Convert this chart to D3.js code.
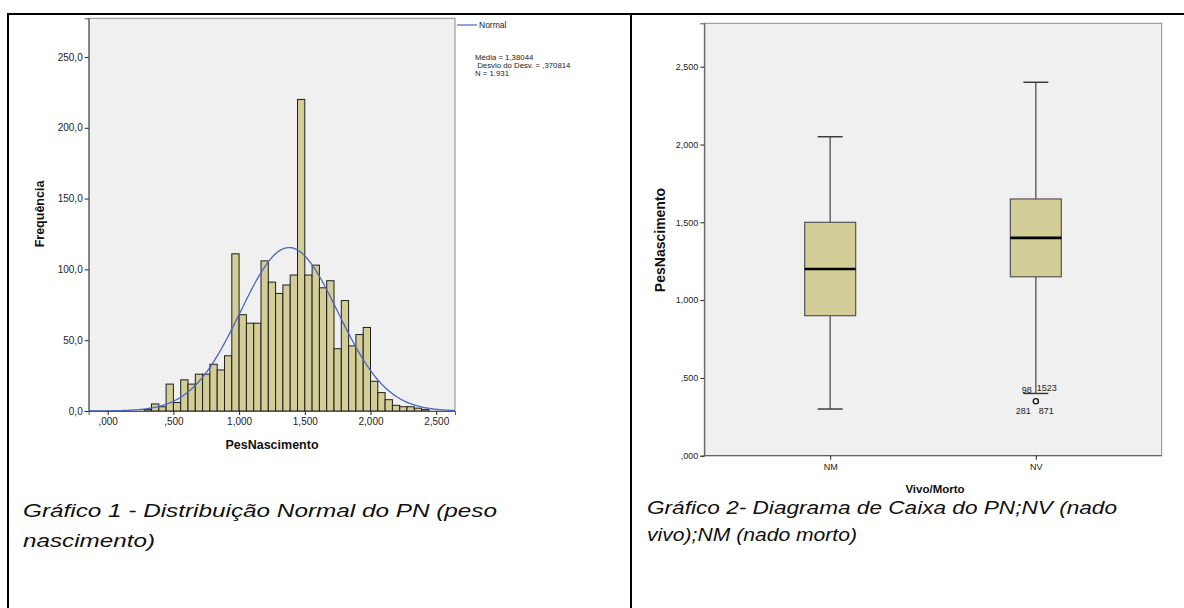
<!DOCTYPE html>
<html><head><meta charset="utf-8">
<script src="https://cdn.jsdelivr.net/npm/d3@7"></script>
<style>
body{margin:0;background:#fff}
svg{display:block;font-family:"Liberation Sans",Arial,sans-serif}
</style>
</head><body>
<svg id="c" width="1184" height="608"></svg>
<script>
// ---------- Data: histogram (Gráfico 1) ----------
const binFreqs = [1,5,3,19,6,22,19,26,26,33,29,39,111,68,62,62,106,91,83,89,96,220,96,103,87,92,44,78,46,54,59,21,13,8,4,3,3,2,1];
const binStart = 0.27778;   // first bin lower edge (5/18)
const binWidth = 0.055556;  // SPSS bin width (1/18)
const normalMean = 1.38044;
const normalSd = 0.370814;
const normalN = 1931;
const statLines = ["Média = 1,38044", "\u00a0Desvio do Desv. = ,370814", "N = 1.931"];
const histYTicks = [0, 50, 100, 150, 200, 250];
const histYLabels = ["0,0", "50,0", "100,0", "150,0", "200,0", "250,0"];
const histXTicks = [0, 0.5, 1, 1.5, 2, 2.5];
const histXLabels = [",000", ",500", "1,000", "1,500", "2,000", "2,500"];

// ---------- Data: box plot (Gráfico 2) ----------
const groups = ["NM", "NV"];
const whiskerLow = [0.30, 0.40];
const quart1 = [0.90, 1.15];
const medians = [1.20, 1.40];
const quart3 = [1.50, 1.65];
const whiskerHigh = [2.05, 2.40];
const outlierGroup = "NV";
const outlierValue = 0.35;
const outlierIds = ["98", "1523", "281", "871"];
const boxYTicks = [0, 0.5, 1, 1.5, 2, 2.5];
const boxYLabels = [",000", ",500", "1,000", "1,500", "2,000", "2,500"];

const svg = d3.select("#c");
const PLOT_BG = "#f0f0f0", FRAME = "#8c8c8c", BAR = "#d3ce97", LINE = "#4a67c2";

// ---------- outer table borders ----------
svg.append("line").attr("x1", 7).attr("x2", 1184).attr("y1", 14).attr("y2", 14).attr("stroke", "#000").attr("stroke-width", 2);
svg.append("line").attr("x1", 8).attr("x2", 8).attr("y1", 13).attr("y2", 608).attr("stroke", "#000").attr("stroke-width", 2);
svg.append("line").attr("x1", 631).attr("x2", 631).attr("y1", 13).attr("y2", 608).attr("stroke", "#000").attr("stroke-width", 2);

// ---------- Histogram ----------
const hx = d3.scaleLinear().domain([-0.1446, 2.643]).range([88.7, 455]);
const hy = d3.scaleLinear().domain([0, 277.3]).range([411, 18.3]);
const g1 = svg.append("g");
g1.append("rect").attr("x", hx.range()[0]).attr("y", hy.range()[1])
  .attr("width", hx.range()[1] - hx.range()[0]).attr("height", hy.range()[0] - hy.range()[1])
  .attr("fill", PLOT_BG).attr("stroke", FRAME).attr("stroke-width", 1);

g1.selectAll("rect.bar").data(binFreqs).join("rect").attr("class", "bar")
  .attr("x", (d, i) => hx(binStart + i * binWidth))
  .attr("width", (d, i) => hx(binStart + (i + 1) * binWidth) - hx(binStart + i * binWidth))
  .attr("y", d => hy(d)).attr("height", d => hy(0) - hy(d))
  .attr("fill", BAR).attr("stroke", "#1e1e1e").attr("stroke-width", 1);

// fitted normal curve from stated mean / sd / N
const curveXs = d3.range(0, 301).map(i => hx.domain()[0] + i * (hx.domain()[1] - hx.domain()[0]) / 300);
const dens = x => normalN * binWidth * Math.exp(-0.5 * ((x - normalMean) / normalSd) ** 2) / (normalSd * Math.sqrt(2 * Math.PI));
g1.append("path").datum(curveXs)
  .attr("d", d3.line().x(d => hx(d)).y(d => hy(dens(d))))
  .attr("fill", "none").attr("stroke", LINE).attr("stroke-width", 1.3);

const yAx1 = g1.append("g").attr("transform", `translate(${hx.range()[0]},0)`)
  .call(d3.axisLeft(hy).tickValues(histYTicks).tickFormat((d, i) => histYLabels[i]).tickSize(4).tickPadding(2));
const xAx1 = g1.append("g").attr("transform", `translate(0,${hy.range()[0]})`)
  .call(d3.axisBottom(hx).tickValues(histXTicks).tickFormat((d, i) => histXLabels[i]).tickSize(4).tickPadding(3));
[yAx1, xAx1].forEach(a => {
  a.select(".domain").attr("stroke", "#555");
  a.selectAll(".tick line").attr("stroke", "#222");
  a.selectAll(".tick text").attr("fill", "#222").style("font-size", "10px").style("font-family", '"Liberation Sans",Arial,sans-serif');
});

g1.append("text").attr("transform", `translate(44,214) rotate(-90)`).attr("text-anchor", "middle")
  .style("font-size", "12.5px").style("font-weight", "bold").attr("fill", "#111").text("Frequência");
g1.append("text").attr("x", 272).attr("y", 449).attr("text-anchor", "middle")
  .style("font-size", "12.5px").style("font-weight", "bold").attr("fill", "#111").text("PesNascimento");

// legend + stats
g1.append("line").attr("x1", 457).attr("x2", 477).attr("y1", 25).attr("y2", 25).attr("stroke", LINE).attr("stroke-width", 1.2);
g1.append("text").attr("x", 479).attr("y", 28).style("font-size", "8.5px").attr("fill", "#222").text("Normal");
g1.selectAll("text.stat").data(statLines).join("text").attr("class", "stat")
  .attr("x", 475).attr("y", (d, i) => 60 + i * 8)
  .style("font-size", "7.8px").attr("fill", "#222").text(d => d);

// ---------- Box plot ----------
const bx = d3.scalePoint().domain(groups).range([704.3, 1161.7]).padding(0.612);
const by = d3.scaleLinear().domain([0, 2.779]).range([455.7, 23.3]);
const g2 = svg.append("g");
g2.append("rect").attr("x", bx.range()[0]).attr("y", by.range()[1])
  .attr("width", bx.range()[1] - bx.range()[0]).attr("height", by.range()[0] - by.range()[1])
  .attr("fill", PLOT_BG).attr("stroke", FRAME).attr("stroke-width", 1);

const boxW = 51, capW = 25;
const boxes = groups.map((g, i) => ({g, lo: whiskerLow[i], q1: quart1[i], med: medians[i], q3: quart3[i], hi: whiskerHigh[i]}));
const bg = g2.selectAll("g.box").data(boxes).join("g").attr("class", "box");
bg.append("line").attr("x1", d => bx(d.g)).attr("x2", d => bx(d.g)).attr("y1", d => by(d.hi)).attr("y2", d => by(d.q3)).attr("stroke", "#444").attr("stroke-width", 1.2);
bg.append("line").attr("x1", d => bx(d.g)).attr("x2", d => bx(d.g)).attr("y1", d => by(d.q1)).attr("y2", d => by(d.lo)).attr("stroke", "#444").attr("stroke-width", 1.2);
bg.append("line").attr("x1", d => bx(d.g) - capW / 2).attr("x2", d => bx(d.g) + capW / 2).attr("y1", d => by(d.hi)).attr("y2", d => by(d.hi)).attr("stroke", "#333").attr("stroke-width", 1.4);
bg.append("line").attr("x1", d => bx(d.g) - capW / 2).attr("x2", d => bx(d.g) + capW / 2).attr("y1", d => by(d.lo)).attr("y2", d => by(d.lo)).attr("stroke", "#333").attr("stroke-width", 1.4);
bg.append("rect").attr("x", d => bx(d.g) - boxW / 2).attr("width", boxW)
  .attr("y", d => by(d.q3)).attr("height", d => by(d.q1) - by(d.q3))
  .attr("fill", BAR).attr("stroke", "#555").attr("stroke-width", 1.2);
bg.append("line").attr("x1", d => bx(d.g) - boxW / 2).attr("x2", d => bx(d.g) + boxW / 2).attr("y1", d => by(d.med)).attr("y2", d => by(d.med)).attr("stroke", "#000").attr("stroke-width", 2.6);

// outlier
const ox = bx(outlierGroup), oy = by(outlierValue);
g2.append("circle").attr("cx", ox).attr("cy", oy).attr("r", 2.6).attr("fill", "none").attr("stroke", "#111").attr("stroke-width", 1.3);
const lblPos = [{dx: -4, dy: -8, a: "end"}, {dx: 1, dy: -10, a: "start"}, {dx: -5, dy: 13, a: "end"}, {dx: 3, dy: 13, a: "start"}];
g2.selectAll("text.oid").data(outlierIds).join("text").attr("class", "oid")
  .attr("x", (d, i) => ox + lblPos[i].dx).attr("y", (d, i) => oy + lblPos[i].dy)
  .attr("text-anchor", (d, i) => lblPos[i].a).style("font-size", "9px").attr("fill", "#222").text(d => d);

const yAx2 = g2.append("g").attr("transform", `translate(${bx.range()[0]},0)`)
  .call(d3.axisLeft(by).tickValues(boxYTicks).tickFormat((d, i) => boxYLabels[i]).tickSize(4).tickPadding(2));
const xAx2 = g2.append("g").attr("transform", `translate(0,${by.range()[0]})`)
  .call(d3.axisBottom(bx).tickSize(4).tickPadding(4));
[yAx2, xAx2].forEach(a => {
  a.select(".domain").attr("stroke", "#555");
  a.selectAll(".tick line").attr("stroke", "#222");
  a.selectAll(".tick text").attr("fill", "#222").style("font-size", "9px").style("font-family", '"Liberation Sans",Arial,sans-serif');
});
xAx2.select(".domain").attr("d", `M${bx.range()[0]},0H${bx.range()[1]}`);

g2.append("text").attr("transform", `translate(665,240) rotate(-90)`).attr("text-anchor", "middle")
  .style("font-size", "14px").style("font-weight", "bold").attr("fill", "#111").text("PesNascimento");
g2.append("text").attr("x", 935).attr("y", 493).attr("text-anchor", "middle")
  .style("font-size", "11.5px").style("font-weight", "bold").attr("fill", "#111").text("Vivo/Morto");

// ---------- captions ----------
const cap = (x, y, t, w) => svg.append("text").attr("x", x).attr("y", y)
  .attr("textLength", w).attr("lengthAdjust", "spacingAndGlyphs")
  .style("font-size", "19px").style("font-style", "italic").attr("fill", "#111").text(t);
cap(23, 517, "Gráfico 1 - Distribuição Normal do PN (peso", 474);
cap(23, 547, "nascimento)", 132);
cap(647, 514, "Gráfico 2- Diagrama de Caixa do PN;NV (nado", 470);
cap(647, 541, "vivo);NM (nado morto)", 210);
</script>
</body></html>
